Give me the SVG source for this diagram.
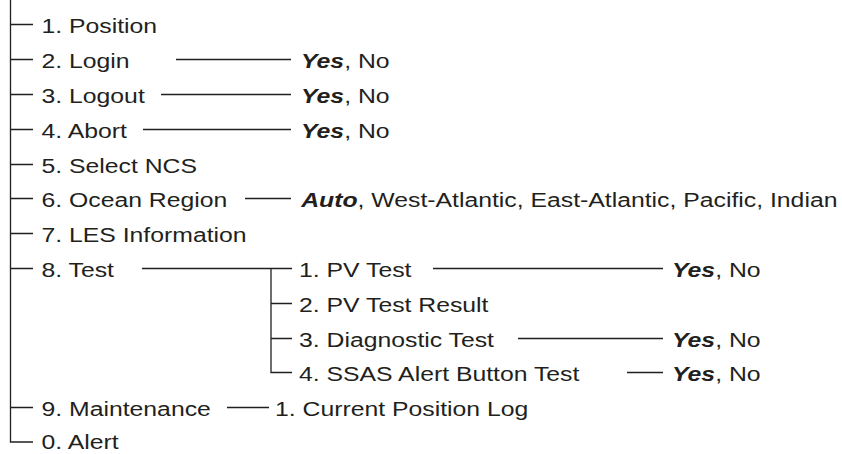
<svg xmlns="http://www.w3.org/2000/svg" width="842" height="454" viewBox="0 0 842 454">
<style>
  .t { font-family: "Liberation Sans", Arial, Helvetica, sans-serif; font-size: 21px; fill: #231f20; transform-box: fill-box; transform-origin: 0 0; transform: scaleX(1.18); }
  .b { font-weight: bold; font-style: italic; }
  .c { fill: none; stroke: #231f20; stroke-width: 1.3; }
</style>
<rect width="842" height="454" fill="#ffffff"/>
<g id="connectors" class="c">
  <path d="M10.5 0 V442 H33"/>
  <path d="M10.5 24.5 H33 M10.5 59.5 H33 M10.5 94.5 H33 M10.5 129.5 H33 M10.5 164.5 H33 M10.5 198.5 H33 M10.5 233.5 H33 M10.5 268.5 H33 M10.5 407.5 H33"/>
  <path d="M176 59.5 H291 M161 94.5 H291 M143 129.5 H291 M245 198.5 H291"/>
  <path d="M142 268.5 H292 M271 268.5 V372.5 H292 M271 303.5 H292 M271 338.5 H292"/>
  <path d="M433 268.5 H663 M518 338.5 H663 M627 372.5 H663"/>
  <path d="M227 407.5 H269"/>
</g>
<g id="n1"><text class="t" x="41.5" y="33.5">1. Position</text></g>
<g id="n2"><text class="t" x="41.5" y="68.5">2. Login</text></g>
<g id="n2o"><text class="t" x="301" y="68.5"><tspan class="b">Yes</tspan>, No</text></g>
<g id="n3"><text class="t" x="41.5" y="103.5">3. Logout</text></g>
<g id="n3o"><text class="t" x="301" y="103.5"><tspan class="b">Yes</tspan>, No</text></g>
<g id="n4"><text class="t" x="41.5" y="138.5">4. Abort</text></g>
<g id="n4o"><text class="t" x="301" y="138.5"><tspan class="b">Yes</tspan>, No</text></g>
<g id="n5"><text class="t" x="41.5" y="173.5">5. Select NCS</text></g>
<g id="n6"><text class="t" x="41.5" y="207.5">6. Ocean Region</text></g>
<g id="n6o"><text class="t" x="301" y="207.5"><tspan class="b">Auto</tspan>, West-Atlantic, East-Atlantic, Pacific, Indian</text></g>
<g id="n7"><text class="t" x="41.5" y="242.5">7. LES Information</text></g>
<g id="n8"><text class="t" x="41.5" y="277.5">8. Test</text></g>
<g id="n81"><text class="t" x="299" y="277.5">1. PV Test</text></g>
<g id="n81o"><text class="t" x="672" y="277.5"><tspan class="b">Yes</tspan>, No</text></g>
<g id="n82"><text class="t" x="299" y="312.5">2. PV Test Result</text></g>
<g id="n83"><text class="t" x="299" y="347.5">3. Diagnostic Test</text></g>
<g id="n83o"><text class="t" x="672" y="347.5"><tspan class="b">Yes</tspan>, No</text></g>
<g id="n84"><text class="t" x="299" y="381.5">4. SSAS Alert Button Test</text></g>
<g id="n84o"><text class="t" x="672" y="381.5"><tspan class="b">Yes</tspan>, No</text></g>
<g id="n9"><text class="t" x="41.5" y="416.5">9. Maintenance</text></g>
<g id="n91"><text class="t" x="275" y="416.5">1. Current Position Log</text></g>
<g id="n0"><text class="t" x="41.5" y="449.5">0. Alert</text></g>
</svg>
